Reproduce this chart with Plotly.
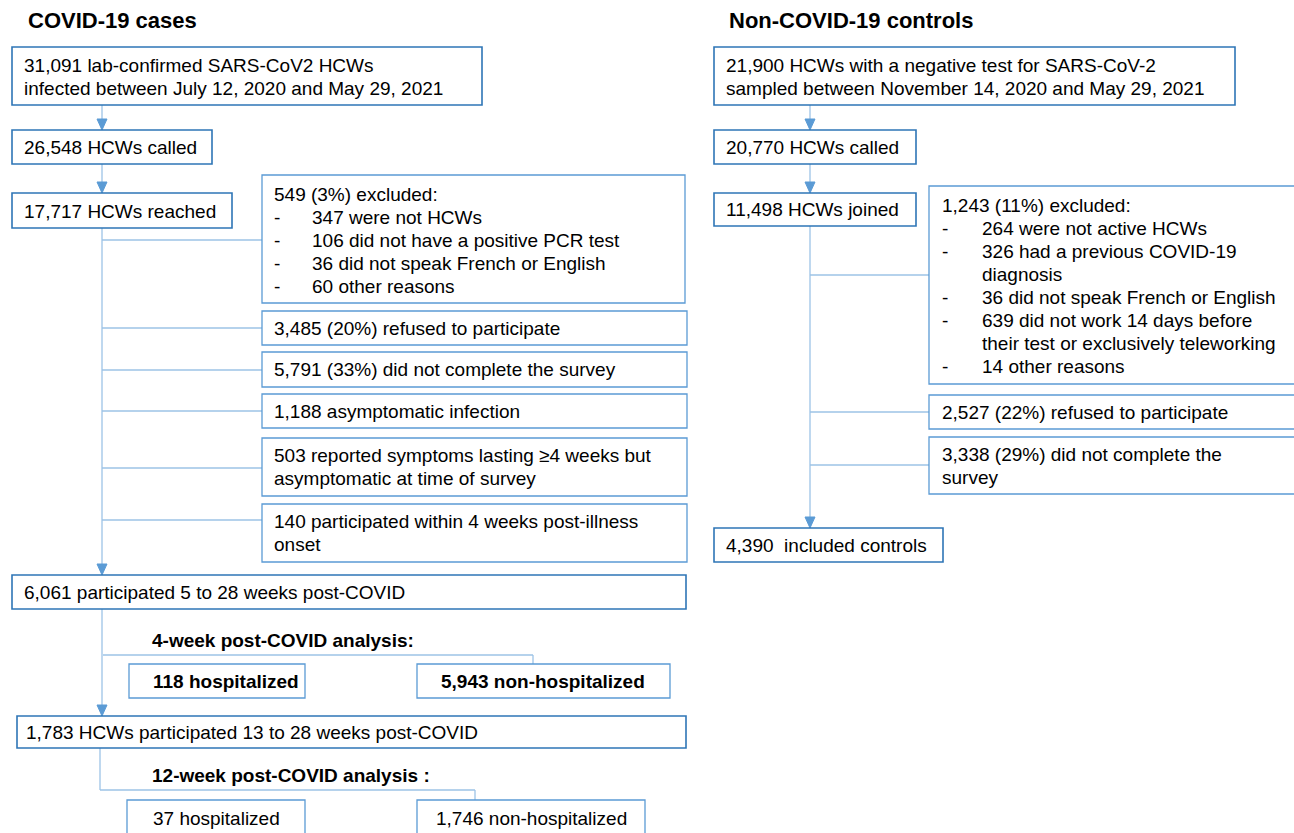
import plotly.graph_objects as go

W, H = 1294, 833
FONT = "Liberation Sans, Arial, sans-serif"
DARK = "#2E75B6"
MID = "#5B9BD5"
LIGHT = "#9DC3E6"
FS = 19
LH = 23

# ---------------- data (texts / counts) ----------------
titles = ["COVID-19 cases", "Non-COVID-19 controls"]
case_main = [
    ["31,091 lab-confirmed SARS-CoV2 HCWs", "infected between July 12, 2020 and May 29, 2021"],
    ["26,548 HCWs called"],
    ["17,717 HCWs reached"],
    ["6,061 participated 5 to 28 weeks post-COVID"],
    ["1,783 HCWs participated 13 to 28 weeks post-COVID"],
]
case_excl_head = "549 (3%) excluded:"
case_excl_items = [["347 were not HCWs"], ["106 did not have a positive PCR test"],
                   ["36 did not speak French or English"], ["60 other reasons"]]
case_side = [
    ["3,485 (20%) refused to participate"],
    ["5,791 (33%) did not complete the survey"],
    ["1,188 asymptomatic infection"],
    ["503 reported symptoms lasting ≥4 weeks but", "asymptomatic at time of survey"],
    ["140 participated within 4 weeks post-illness", "onset"],
]
analysis_titles = ["4-week post-COVID analysis:", "12-week post-COVID analysis :"]
analysis4 = ["118 hospitalized", "5,943 non-hospitalized"]
analysis12 = ["37 hospitalized", "1,746 non-hospitalized"]

ctrl_main = [
    ["21,900 HCWs with a negative test for SARS-CoV-2", "sampled between November 14, 2020 and May 29, 2021"],
    ["20,770 HCWs called"],
    ["11,498 HCWs joined"],
    ["4,390  included controls"],
]
ctrl_excl_head = "1,243 (11%) excluded:"
ctrl_excl_items = [["264 were not active HCWs"],
                   ["326 had a previous COVID-19", "diagnosis"],
                   ["36 did not speak French or English"],
                   ["639 did not work 14 days before", "their test or exclusively teleworking"],
                   ["14 other reasons"]]
ctrl_side = [
    ["2,527 (22%) refused to participate"],
    ["3,338 (29%) did not complete the", "survey"],
]

# ---------------- drawing helpers ----------------
shapes = []
annos = []

def box(x0, y0, x1, y1, color=DARK, w=1.6):
    shapes.append(dict(type="rect", x0=x0, y0=y0, x1=x1, y1=y1,
                       line=dict(color=color, width=w), fillcolor="white", layer="above"))

def line(x0, y0, x1, y1, color=LIGHT, w=1.3):
    shapes.append(dict(type="line", x0=x0, y0=y0, x1=x1, y1=y1,
                       line=dict(color=color, width=w), layer="below"))

def arrow(x, y0, y1):
    line(x, y0, x, y1 - 9)
    shapes.append(dict(type="path",
                       path=f"M {x-5},{y1-11} L {x+5},{y1-11} L {x},{y1} Z",
                       fillcolor=MID, line=dict(color=MID, width=1), layer="below"))

def text(x, y, t, size=FS, bold=False, anchor="left"):
    annos.append(dict(x=x, y=y, text=(f"<b>{t}</b>" if bold else t), showarrow=False,
                      xanchor=anchor, yanchor="middle", align="left",
                      font=dict(family=FONT, size=size, color="black"),
                      xref="x", yref="y"))

def lines(x, yc, tl, **kw):
    n = len(tl)
    for i, t in enumerate(tl):
        text(x, yc + (i - (n - 1) / 2) * LH, t, **kw)

# ---------------- left column ----------------
text(26, 20, titles[0], size=22, bold=True)
box(12, 47, 482, 105); lines(22, 77, case_main[0])
arrow(102, 105, 130)
box(12, 130, 212, 164); lines(22, 147, case_main[1])
arrow(102, 164, 193)
box(12, 193, 232, 228); lines(22, 211, case_main[2])
arrow(102, 228, 575)

# exclusion box
box(262, 175, 685, 303, MID, 1.3)
line(102, 240, 262, 240)
text(272, 194, case_excl_head)
for i, t in enumerate(case_excl_items):
    yy = 217 + i * 23
    text(272, yy, "-")
    text(310, yy, t[0])

side_boxes = [(311, 345, 328), (352, 387, 370), (394, 428, 411), (438, 496, 468), (504, 562, 520)]
for (y0, y1, yl), t in zip(side_boxes, case_side):
    box(262, y0, 687, y1, MID, 1.3)
    line(102, yl, 262, yl)
    lines(272, (y0 + y1) / 2, t)

box(12, 575, 686, 609); lines(22, 592, case_main[3])
text(150, 640, analysis_titles[0], bold=True)
line(103, 655, 533, 655); line(533, 655, 533, 664)
arrow(102, 609, 716)
box(129, 664, 305, 698, MID, 1.3); text(151, 681, analysis4[0], bold=True)
box(417, 664, 670, 698, MID, 1.3); text(543, 681, analysis4[1], bold=True, anchor="center")

box(17, 716, 686, 748); lines(24, 732, case_main[4])
text(150, 775, analysis_titles[1], bold=True)
line(100, 748, 100, 790); line(100, 790, 475, 790); line(475, 790, 475, 800)
box(127, 800, 305, 845, MID, 1.3); text(216, 818, analysis12[0], anchor="center")
box(417, 800, 645, 845, MID, 1.3); text(531, 818, analysis12[1], anchor="center")

# ---------------- right column ----------------
text(727, 20, titles[1], size=22, bold=True)
box(714, 47, 1235, 105); lines(724, 77, ctrl_main[0])
arrow(810, 105, 130)
box(714, 130, 916, 164); lines(724, 147, ctrl_main[1])
arrow(810, 164, 193)
box(714, 193, 916, 226); lines(724, 209, ctrl_main[2])
arrow(810, 226, 528)

box(929, 186, 1300, 384, MID, 1.3)
line(810, 275, 929, 275)
text(940, 205, ctrl_excl_head)
yy = 228
for item in ctrl_excl_items:
    text(940, yy, "-")
    for t in item:
        text(980, yy, t)
        yy += 23

rside = [(395, 429, 412), (437, 494, 465)]
for (y0, y1, yl), t in zip(rside, ctrl_side):
    box(929, y0, 1300, y1, MID, 1.3)
    line(810, yl, 929, yl)
    lines(940, (y0 + y1) / 2, t)

box(714, 528, 943, 562); lines(724, 545, ctrl_main[3])

fig = go.Figure()
fig.update_layout(
    width=W, height=H, margin=dict(l=0, r=0, t=0, b=0),
    paper_bgcolor="white", plot_bgcolor="white",
    xaxis=dict(range=[0, W], visible=False, fixedrange=True),
    yaxis=dict(range=[H, 0], visible=False, fixedrange=True),
    shapes=shapes, annotations=annos, showlegend=False,
)
fig.write_html("out.html", config={"displayModeBar": False},
               post_script="document.body.style.margin='0px';document.body.style.overflow='hidden';")
